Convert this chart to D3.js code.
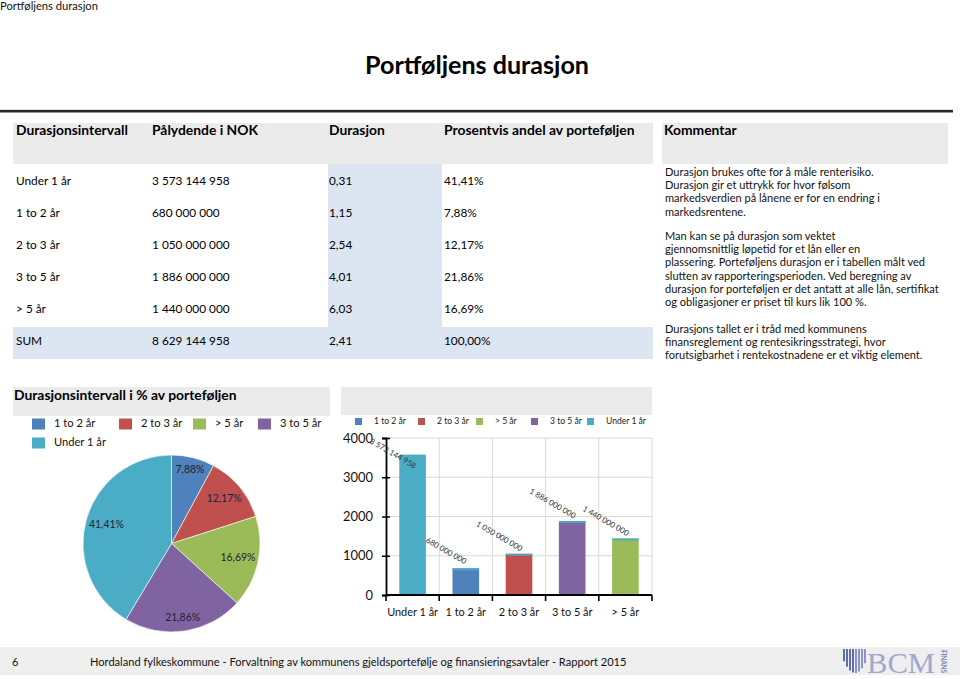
<!DOCTYPE html>
<html><head><meta charset="utf-8">
<script src="https://cdn.jsdelivr.net/npm/d3@7"></script>
<style>body{margin:0;background:#fff}svg{display:block}text{font-family:Lato,"Open Sans",sans-serif}</style>
</head><body>
<svg id="c" width="960" height="679"></svg>
<script>
// ---------- DATA ----------
const intervals = ["Under 1 år", "1 to 2 år", "2 to 3 år", "3 to 5 år", "> 5 år"];
const nominalNOK = [3573144958, 680000000, 1050000000, 1886000000, 1440000000];
const durations = [0.31, 1.15, 2.54, 4.01, 6.03];
const shares = [41.41, 7.88, 12.17, 21.86, 16.69];
const sumLabel = "SUM";
const sumNominal = 8629144958;
const sumDuration = 2.41;
const sumShare = 100.00;
const tableHeaders = ["Durasjonsintervall", "Pålydende i NOK", "Durasjon", "Prosentvis andel av porteføljen"];
const commentHeader = "Kommentar";
const commentParagraphs = [
  ["Durasjon brukes ofte for å måle renterisiko.",
   "Durasjon gir et uttrykk for hvor følsom",
   "markedsverdien på lånene er for en endring i",
   "markedsrentene."],
  ["Man kan se på durasjon som vektet",
   "gjennomsnittlig løpetid for et lån eller en",
   "plassering. Porteføljens durasjon er i tabellen målt ved",
   "slutten av rapporteringsperioden. Ved beregning av",
   "durasjon for porteføljen er det antatt at alle lån, sertifikat",
   "og obligasjoner er priset til kurs lik 100 %."],
  ["Durasjons tallet er i tråd med kommunens",
   "finansreglement og rentesikringsstrategi, hvor",
   "forutsigbarhet i rentekostnadene er et viktig element."]
];
const seriesOrder = ["1 to 2 år", "2 to 3 år", "> 5 år", "3 to 5 år", "Under 1 år"];
const seriesColors = ["#4f81bd", "#c0504d", "#9bbb59", "#8064a2", "#4bacc6"];
const barTicks = [0, 1000, 2000, 3000, 4000];
const pageTitle = "Portføljens durasjon";
const pieTitle = "Durasjonsintervall i % av porteføljen";
const footerPage = "6";
const footerText = "Hordaland fylkeskommune - Forvaltning av kommunens gjeldsportefølje og finansieringsavtaler  - Rapport 2015";

// ---------- HELPERS ----------
const svg = d3.select("#c");
const nb = d3.formatLocale({decimal: ",", thousands: "\u00a0", grouping: [3], currency: ["", ""]});
const fmtInt = nb.format(",d");
const fmtDur = nb.format(".2f");
const fmtPct = v => nb.format(".2f")(v) + "%";
const color = d3.scaleOrdinal(seriesOrder, seriesColors);

function sizeFor(sample, weight, target, family) {
  const t = svg.append("text").attr("font-size", 20).attr("font-weight", weight)
    .style("font-family", family || null).text(sample);
  const w = t.node().getComputedTextLength();
  t.remove();
  return 20 * target / w;
}
const fs = {
  top: sizeFor(pageTitle, 400, 98),
  title: sizeFor(pageTitle, 700, 224),
  head: sizeFor(tableHeaders[0], 700, 112),
  body: (sizeFor(fmtInt(nominalNOK[0]), 400, 75) + sizeFor("Under 1 år", 400, 57)) / 2,
  comment: Math.min(sizeFor(commentParagraphs[0][0], 400, 235), sizeFor(commentParagraphs[1][4], 400, 274)),
  pieTitle: sizeFor(pieTitle, 700, 223),
  pieLeg: sizeFor("Under 1 år", 400, 52),
  pieLab: sizeFor("41,41%", 400, 35),
  barLeg: sizeFor("Under 1 år", 400, 40),
  barTick: sizeFor("4000", 400, 30),
  barX: sizeFor("Under 1 år", 400, 51),
  barVal: sizeFor("1 886 000 000", 400, 52),
  footer: sizeFor(footerText, 400, 537)
};

// ---------- PAGE HEADER ----------
svg.append("text").attr("x", 0).attr("y", 7).attr("dominant-baseline", "middle")
  .attr("font-size", fs.top).attr("fill", "#111").text(pageTitle);
svg.append("text").attr("x", 477).attr("y", 68).attr("text-anchor", "middle").attr("dominant-baseline", "middle")
  .attr("font-size", fs.title).attr("font-weight", 700).attr("fill", "#000").text(pageTitle);
svg.append("rect").attr("x", 0).attr("y", 109).attr("width", 953).attr("height", 1).attr("fill", "#ddd");
svg.append("rect").attr("x", 0).attr("y", 110).attr("width", 953).attr("height", 2.5).attr("fill", "#2a2a2a");

// ---------- TABLE ----------
const colX = [16, 152, 329, 444];
const rowY = d3.scalePoint().domain([...intervals, sumLabel]).range([181.7, 342.3]);
svg.append("rect").attr("x", 13).attr("y", 123).attr("width", 640).attr("height", 41).attr("fill", "#ebebeb");
svg.append("rect").attr("x", 662).attr("y", 123).attr("width", 286).attr("height", 41).attr("fill", "#ebebeb");
svg.append("rect").attr("x", 328).attr("y", 164).attr("width", 114).attr("height", 163).attr("fill", "#dce6f2");
svg.append("rect").attr("x", 13).attr("y", 327).attr("width", 640).attr("height", 32).attr("fill", "#dce6f2");

svg.selectAll("text.th").data(tableHeaders).join("text").attr("class", "th")
  .attr("x", (d, i) => colX[i]).attr("y", 131).attr("dominant-baseline", "middle")
  .attr("font-size", fs.head).attr("font-weight", 700).attr("fill", "#000").text(d => d);
svg.append("text").attr("x", 664).attr("y", 131).attr("dominant-baseline", "middle")
  .attr("font-size", fs.head).attr("font-weight", 700).attr("fill", "#000").text(commentHeader);

const rows = intervals.map((d, i) => [d, fmtInt(nominalNOK[i]), fmtDur(durations[i]), fmtPct(shares[i])]);
rows.push([sumLabel, fmtInt(sumNominal), fmtDur(sumDuration), fmtPct(sumShare)]);
const rg = svg.selectAll("g.row").data(rows).join("g").attr("class", "row")
  .attr("transform", d => `translate(0,${rowY(d[0])})`);
rg.selectAll("text").data(d => d).join("text")
  .attr("x", (d, i) => colX[i]).attr("dominant-baseline", "middle")
  .attr("font-size", fs.body).attr("fill", "#000").text(d => d);

// comment text
const lineH = 13.3;
const paraTop = [173, 237, 330];
commentParagraphs.forEach((p, pi) => {
  svg.append("g").selectAll("text").data(p).join("text")
    .attr("x", 665).attr("y", (d, i) => paraTop[pi] + i * lineH).attr("dominant-baseline", "middle")
    .attr("font-size", fs.comment).attr("fill", "#111").text(d => d);
});

// ---------- PIE ----------
svg.append("rect").attr("x", 13).attr("y", 387).attr("width", 317).attr("height", 29).attr("fill", "#ebebeb");
svg.append("text").attr("x", 14).attr("y", 396).attr("dominant-baseline", "middle")
  .attr("font-size", fs.pieTitle).attr("font-weight", 700).attr("fill", "#000").text(pieTitle);

const pieLegPos = [[32, 424], [119, 424], [193, 424], [258, 424], [32, 443]];
const pl = svg.selectAll("g.pleg").data(seriesOrder).join("g").attr("class", "pleg")
  .attr("transform", (d, i) => `translate(${pieLegPos[i][0]},${pieLegPos[i][1]})`);
pl.append("rect").attr("x", 0).attr("y", -5.5).attr("width", 13).attr("height", 11).attr("fill", d => color(d));
pl.append("text").attr("x", 22).attr("dominant-baseline", "middle").attr("font-size", fs.pieLeg)
  .attr("fill", "#111").text(d => d);

const pieData = seriesOrder.map(s => ({name: s, value: shares[intervals.indexOf(s)]}));
const R = 88.5;
const pieG = svg.append("g").attr("transform", "translate(171.5,543.5)");
const arcs = d3.pie().value(d => d.value).sort(null)(pieData);
const arcGen = d3.arc().innerRadius(0).outerRadius(R);
pieG.selectAll("path").data(arcs).join("path").attr("d", arcGen).attr("fill", d => color(d.data.name))
  .attr("stroke", "#fff").attr("stroke-width", 0.6);
const labs = pieG.selectAll("text").data(arcs).join("text")
  .attr("text-anchor", "middle").attr("dominant-baseline", "middle")
  .attr("font-size", fs.pieLab).attr("fill", "#1f2235").text(d => fmtPct(d.data.value));
labs.each(function (d) {
  const w = this.getComputedTextLength() / 2, h = fs.pieLab * 0.6;
  const a = (d.startAngle + d.endAngle) / 2;
  const dx = Math.sin(a), dy = -Math.cos(a);
  let t = R;
  const inside = t => [[-w, -h], [w, -h], [-w, h], [w, h]].every(([ox, oy]) => Math.hypot(t * dx + ox, t * dy + oy) <= R - 2);
  while (t > 0 && !inside(t)) t -= 0.5;
  d3.select(this).attr("x", t * dx).attr("y", t * dy);
});

// ---------- BAR ----------
svg.append("rect").attr("x", 341).attr("y", 387).attr("width", 311).attr("height", 28).attr("fill", "#ebebeb");
const barLegPos = [355, 418, 476, 531, 587];
const bl = svg.selectAll("g.bleg").data(seriesOrder).join("g").attr("class", "bleg")
  .attr("transform", (d, i) => `translate(${barLegPos[i]},421.5)`);
bl.append("rect").attr("x", 0).attr("y", -3.5).attr("width", 7).attr("height", 7).attr("fill", d => color(d));
bl.append("text").attr("x", 19).attr("dominant-baseline", "middle").attr("font-size", fs.barLeg)
  .attr("fill", "#222").text(d => d);

const x = d3.scaleBand().domain(intervals).range([386, 652]).paddingInner(0.5).paddingOuter(0.25);
const y = d3.scaleLinear().domain([0, 4000]).range([595, 438]);
const step = x.step();
const bandEdges = intervals.map(d => x(d) - (step - x.bandwidth()) / 2);
// grid
svg.append("g").selectAll("line").data(barTicks.slice(1)).join("line")
  .attr("x1", 386).attr("x2", 652).attr("y1", d => y(d)).attr("y2", d => y(d))
  .attr("stroke", "#d9d9d9").attr("stroke-width", 1);
svg.append("g").selectAll("line").data(bandEdges.slice(1).concat([652])).join("line")
  .attr("x1", d => d).attr("x2", d => d).attr("y1", y(4000)).attr("y2", y(0))
  .attr("stroke", "#d9d9d9").attr("stroke-width", 1);
// bars
const vals = nominalNOK.map(v => v / 1e6);
svg.append("g").selectAll("rect").data(intervals).join("rect")
  .attr("x", d => x(d)).attr("width", x.bandwidth())
  .attr("y", (d, i) => y(vals[i])).attr("height", (d, i) => y(0) - y(vals[i]))
  .attr("fill", d => color(d));
svg.append("g").selectAll("rect").data(intervals).join("rect")
  .attr("x", d => x(d)).attr("width", x.bandwidth())
  .attr("y", (d, i) => y(vals[i])).attr("height", 2)
  .attr("fill", color("Under 1 år")).attr("opacity", 0.9);
// axes
const yAxis = d3.axisLeft(y).tickValues(barTicks).tickSize(4).tickPadding(9).tickFormat(d3.format("d"));
const yg = svg.append("g").attr("transform", "translate(386,0)").call(yAxis);
yg.select(".domain").attr("stroke", "#000").attr("stroke-width", 1.8);
yg.selectAll(".tick line").attr("stroke", "#000").attr("stroke-width", 1.5).attr("x2", 4).attr("x1", -4);
yg.selectAll(".tick text").attr("font-size", fs.barTick).attr("fill", "#111").style("font-family", "Lato");
const xg = svg.append("g").attr("transform", `translate(0,${y(0)})`);
xg.append("line").attr("x1", 386).attr("x2", 652).attr("stroke", "#000").attr("stroke-width", 1.8);
xg.selectAll("line.tk").data(bandEdges.concat([652])).join("line").attr("class", "tk")
  .attr("x1", d => d).attr("x2", d => d).attr("y1", 0).attr("y2", 6).attr("stroke", "#000").attr("stroke-width", 1.6);
xg.selectAll("text").data(intervals).join("text")
  .attr("x", d => x(d) + x.bandwidth() / 2).attr("y", 18).attr("text-anchor", "middle")
  .attr("dominant-baseline", "middle").attr("font-size", fs.barX).attr("fill", "#111").text(d => d);
// value labels
svg.append("g").selectAll("text").data(intervals).join("text")
  .attr("transform", (d, i) => {
    const cx = x(d) + x.bandwidth() / 2 - 20;
    const cy = Math.max(y(vals[i]) - 17, y(4000) + 16);
    return `translate(${cx},${cy}) rotate(30)`;
  })
  .attr("text-anchor", "middle").attr("dominant-baseline", "middle")
  .attr("font-size", fs.barVal).attr("fill", "#333").text((d, i) => fmtInt(nominalNOK[i]));

// ---------- FOOTER ----------
svg.append("rect").attr("x", 0).attr("y", 647).attr("width", 960).attr("height", 28).attr("fill", "#efefef");
svg.append("text").attr("x", 12).attr("y", 663).attr("dominant-baseline", "middle")
  .attr("font-size", fs.footer).attr("fill", "#111").text(footerPage);
svg.append("text").attr("x", 90).attr("y", 663).attr("dominant-baseline", "middle")
  .attr("font-size", fs.footer).attr("fill", "#111").text(footerText);
// logo
const logo = svg.append("g");
d3.range(0, 8).forEach(i => {
  const lx = 844 + i * 3;
  const off = Math.abs(lx - 855) / 12;
  logo.append("line").attr("x1", lx).attr("x2", lx).attr("y1", 649).attr("y2", 673 - off * off * 14)
    .attr("stroke", i < 4 ? "#3b4d9c" : "#6f7fbf").attr("stroke-width", 1.6);
});
svg.append("text").attr("x", 867).attr("y", 673)
  .style("font-family", "'Liberation Serif',serif").attr("font-size", 30).attr("textLength", 68)
  .attr("lengthAdjust", "spacingAndGlyphs").attr("fill", "#a2a7cf").text("BCM");
svg.append("text").attr("transform", "translate(941,650) rotate(90)").attr("font-size", 6.5)
  .attr("font-weight", 700).attr("fill", "#8088bb").attr("textLength", 23).text("FINANS");
</script>
</body></html>
